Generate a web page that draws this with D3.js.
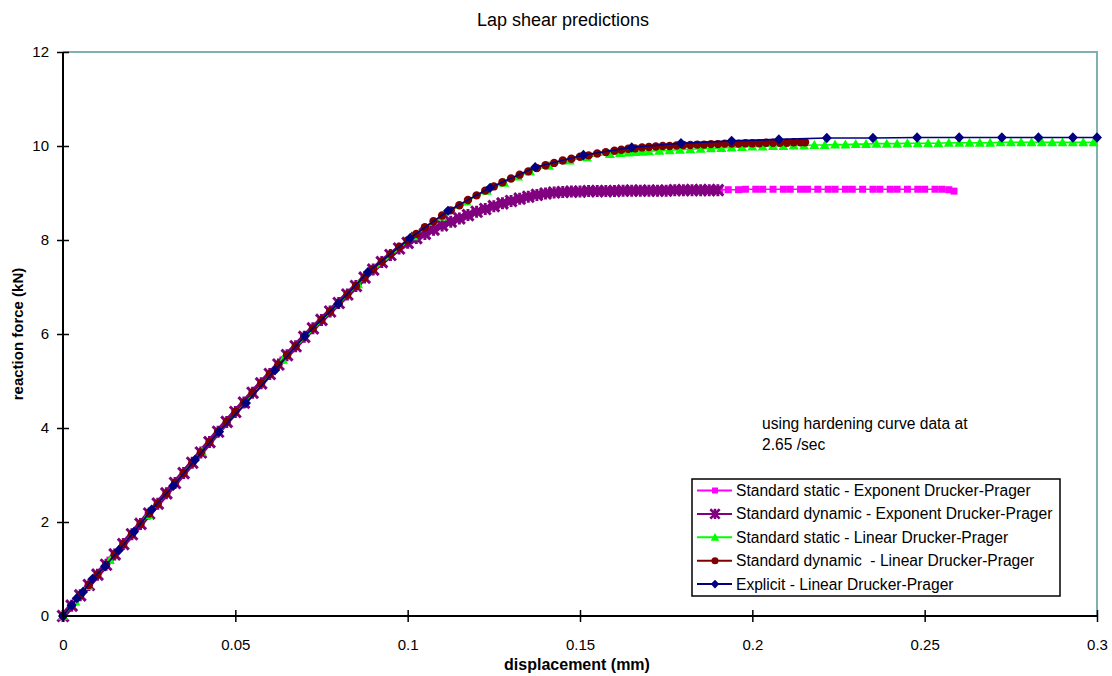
<!DOCTYPE html>
<html>
<head>
<meta charset="utf-8">
<title>Lap shear predictions</title>
<script src="https://cdn.jsdelivr.net/npm/d3@7"></script>
<style>
    body { margin: 0; background: #ffffff; }
    svg { font-family: "Liberation Sans", Arial, sans-serif; }
</style>
</head>
<body>
<svg id="drawing_region"></svg>
<script>
// displacement (mm), reaction force (kN)
const staticExp = [
    [0,0],[0.0036,0.31],[0.0073,0.64],[0.0136,1.19],[0.0247,2.15],[0.0403,3.5],[0.0638,5.45],
    [0.0856,7.06],[0.1016,8.02],[0.11,8.31],[0.117,8.51],[0.123,8.67],[0.128,8.79],[0.132,8.87],
    [0.136,8.94],[0.141,9.01],[0.147,9.04],[0.153,9.05],[0.16,9.06],[0.167,9.06],[0.174,9.07],
    [0.181,9.07],[0.187,9.07],[0.1905,9.07],[0.193,9.07],[0.196,9.07],[0.198,9.08],[0.201,9.08],
    [0.203,9.08],[0.206,9.08],[0.209,9.08],[0.211,9.08],[0.214,9.08],[0.216,9.08],[0.219,9.08],
    [0.222,9.08],[0.224,9.08],[0.227,9.08],[0.229,9.08],[0.232,9.08],[0.235,9.08],[0.237,9.08],
    [0.240,9.08],[0.242,9.08],[0.245,9.08],[0.248,9.08],[0.250,9.08],[0.253,9.08],[0.255,9.08],
    [0.257,9.07],[0.2585,9.04]
];

const dynamicExp = [
    [0,0],[0.0025,0.22],[0.005,0.44],[0.0075,0.66],[0.01,0.88],[0.0125,1.09],[0.015,1.31],
    [0.0175,1.53],[0.02,1.74],[0.0225,1.96],[0.025,2.18],[0.0275,2.39],[0.03,2.61],[0.0325,2.83],
    [0.035,3.04],[0.0375,3.26],[0.04,3.48],[0.0425,3.7],[0.045,3.92],[0.0475,4.13],[0.05,4.34],
    [0.0525,4.54],[0.055,4.75],[0.0575,4.95],[0.06,5.15],[0.0625,5.35],[0.065,5.55],[0.0675,5.74],
    [0.07,5.94],[0.0725,6.12],[0.075,6.3],[0.0775,6.48],[0.08,6.66],[0.0825,6.84],[0.085,7.02],
    [0.0875,7.2],[0.09,7.37],[0.0925,7.53],[0.095,7.68],[0.0975,7.82],[0.1,7.94],[0.1025,8.04],
    [0.105,8.13],[0.1075,8.22],[0.11,8.31],[0.1125,8.39],[0.115,8.46],[0.1175,8.53],[0.12,8.6],
    [0.1225,8.66],[0.125,8.72],[0.1275,8.78],[0.13,8.83],[0.1325,8.88],[0.135,8.92],[0.1375,8.96],
    [0.14,8.99],[0.1425,9.01],[0.145,9.02],[0.1475,9.03],[0.15,9.03],[0.1525,9.04],[0.155,9.04],
    [0.1575,9.04],[0.16,9.04],[0.1625,9.05],[0.165,9.05],[0.1675,9.05],[0.17,9.05],[0.1725,9.05],
    [0.175,9.05],[0.1775,9.06],[0.18,9.06],[0.1825,9.06],[0.185,9.06],[0.1875,9.06],[0.19,9.06]
];

const staticLin = [
    [0,0],[0.0036,0.31],[0.0073,0.64],[0.0136,1.19],[0.0247,2.15],[0.0403,3.5],[0.0638,5.45],
    [0.0856,7.06],[0.1016,8.08],[0.11,8.5],[0.117,8.82],[0.123,9.05],[0.128,9.22],[0.132,9.35],
    [0.1355,9.46],[0.141,9.58],[0.147,9.69],[0.152,9.76],[0.1587,9.83],[0.1616,9.85],[0.164,9.86],
    [0.166,9.87],[0.168,9.88],[0.17,9.89],[0.173,9.9],[0.176,9.91],[0.179,9.92],[0.182,9.93],
    [0.185,9.94],[0.188,9.95],[0.191,9.96],[0.194,9.97],[0.197,9.98],[0.2,9.99],[0.203,9.99],
    [0.206,10.0],[0.209,10.0],[0.212,10.01],[0.215,10.01],[0.218,10.02],[0.221,10.02],[0.224,10.03],
    [0.227,10.03],[0.23,10.04],[0.233,10.04],[0.236,10.05],[0.239,10.05],[0.242,10.05],[0.245,10.06],
    [0.248,10.06],[0.251,10.06],[0.254,10.06],[0.257,10.07],[0.26,10.07],[0.263,10.07],[0.266,10.07],
    [0.269,10.07],[0.272,10.08],[0.275,10.08],[0.278,10.08],[0.281,10.08],[0.284,10.08],[0.287,10.08],
    [0.29,10.08],[0.293,10.08],[0.296,10.08],[0.299,10.08]
];

const dynamicLin = [
    [0,0],[0.0025,0.22],[0.005,0.44],[0.0075,0.66],[0.01,0.88],[0.0125,1.09],[0.015,1.31],
    [0.0175,1.53],[0.02,1.74],[0.0225,1.96],[0.025,2.18],[0.0275,2.39],[0.03,2.61],[0.0325,2.83],
    [0.035,3.04],[0.0375,3.26],[0.04,3.48],[0.0425,3.7],[0.045,3.92],[0.0475,4.13],[0.05,4.34],
    [0.0525,4.54],[0.055,4.75],[0.0575,4.95],[0.06,5.15],[0.0625,5.35],[0.065,5.55],[0.0675,5.74],
    [0.07,5.94],[0.0725,6.12],[0.075,6.3],[0.0775,6.48],[0.08,6.66],[0.0825,6.84],[0.085,7.02],
    [0.0875,7.2],[0.09,7.38],[0.0925,7.54],[0.095,7.7],[0.0975,7.85],[0.1,7.99],[0.1025,8.13],
    [0.105,8.27],[0.1075,8.4],[0.11,8.52],[0.1125,8.63],[0.115,8.74],[0.1175,8.85],[0.12,8.95],
    [0.1225,9.05],[0.125,9.14],[0.1275,9.23],[0.13,9.31],[0.1325,9.39],[0.135,9.46],[0.1375,9.53],
    [0.14,9.59],[0.1425,9.64],[0.145,9.69],[0.1475,9.73],[0.15,9.77],[0.1525,9.8],[0.155,9.84],
    [0.1575,9.87],[0.16,9.9],[0.162,9.92],[0.164,9.94],[0.166,9.95],[0.168,9.97],[0.17,9.98],
    [0.172,9.99],[0.174,10.0],[0.176,10.0],[0.178,10.01],[0.18,10.02],[0.182,10.02],[0.184,10.03],
    [0.186,10.03],[0.188,10.04],[0.19,10.04],[0.192,10.05],[0.194,10.05],[0.196,10.05],[0.198,10.06],
    [0.2,10.06],[0.202,10.06],[0.204,10.07],[0.206,10.07],[0.208,10.07],[0.21,10.07],[0.212,10.08],
    [0.214,10.08],[0.2153,10.08]
];

const explicitLin = [
    [0,0],[0.0025,0.23],[0.004,0.38],[0.0058,0.51],[0.0086,0.79],[0.0122,1.06],[0.0162,1.4],
    [0.0206,1.79],[0.0257,2.26],[0.032,2.77],[0.0383,3.32],[0.0453,3.92],[0.0531,4.53],
    [0.0615,5.23],[0.0702,5.96],[0.0798,6.64],[0.0885,7.32],[0.1007,8.04],[0.1117,8.62],
    [0.1239,9.11],[0.137,9.55],[0.151,9.81],[0.165,9.97],[0.1793,10.06],[0.194,10.11],
    [0.2077,10.14],[0.2216,10.17],[0.235,10.17],[0.2478,10.18],[0.26,10.18],[0.2724,10.18],
    [0.283,10.18],[0.293,10.18],[0.3,10.18]
];

const seriesNames = [
    "Standard static - Exponent Drucker-Prager",
    "Standard dynamic - Exponent Drucker-Prager",
    "Standard static - Linear Drucker-Prager",
    "Standard dynamic  - Linear Drucker-Prager",
    "Explicit - Linear Drucker-Prager"
];
const seriesColors = ["#ff00ff", "#800080", "#00ff00", "#800000", "#000080"];
const seriesMarkers = ["square", "star", "triangle", "circle", "diamond"];

const xTicks = [0, 0.05, 0.1, 0.15, 0.2, 0.25, 0.3];
const yTicks = [0, 2, 4, 6, 8, 10, 12];

class LineChart {
    constructor(config, data) {
        this.config = {
            parent: config.parent,
            width: config.width || 256,
            height: config.height || 256,
            margin: config.margin || { top: 10, right: 10, bottom: 10, left: 10 }
        }
        this.data = data;
        this.init();
    }

    init() {
        let self = this;
        self.svg = d3.select(self.config.parent)
            .attr('width', self.config.width)
            .attr('height', self.config.height);

        self.left = self.config.margin.left;
        self.top = self.config.margin.top;
        self.right = self.config.width - self.config.margin.right;
        self.bottom = self.config.height - self.config.margin.bottom;

        self.xscale = d3.scaleLinear().domain([0, 0.3]).range([self.left, self.right]);
        self.yscale = d3.scaleLinear().domain([0, 12]).range([self.bottom, self.top]);

        self.line = d3.line()
            .x(d => self.xscale(d[0]))
            .y(d => self.yscale(d[1]));
    }

    update() {
        let self = this;
        self.render();
    }

    marker(sel, kind, color) {
        if (kind == "square") {
            sel.append('rect').attr('x', -3.5).attr('y', -3.5).attr('width', 7).attr('height', 7)
                .attr('fill', color);
        } else if (kind == "star") {
            sel.append('path').attr('d', 'M-5.5,-5.5L5.5,5.5M-5.5,5.5L5.5,-5.5M0,-6L0,6')
                .attr('stroke', color).attr('stroke-width', 3).attr('fill', 'none');
        } else if (kind == "triangle") {
            sel.append('path').attr('d', 'M0,-5L5,4L-5,4Z').attr('fill', color);
        } else if (kind == "circle") {
            sel.append('circle').attr('r', 4.2).attr('fill', color);
        } else {
            sel.append('path').attr('d', 'M0,-5.2L5,0L0,5.2L-5,0Z').attr('fill', color);
        }
    }

    render() {
        let self = this;

        // frame: black left and bottom, teal top and right
        self.svg.append('path')
            .attr('d', `M${self.left},${self.top}H${self.right}V${self.bottom}`)
            .attr('stroke', '#80b0b0').attr('stroke-width', 2).attr('fill', 'none');

        // series, in legend order so the later ones sit on top
        self.data.forEach((s, i) => {
            const g = self.svg.append('g');
            g.append('path')
                .attr('d', self.line(s))
                .attr('stroke', seriesColors[i])
                .attr('stroke-width', i == 1 ? 6 : (i == 3 ? 1.1 : 1.6))
                .attr('fill', 'none');
            g.selectAll('g.pt').data(s).join('g')
                .attr('class', 'pt')
                .attr('transform', d => `translate(${self.xscale(d[0])},${self.yscale(d[1])})`)
                .each(function() { self.marker(d3.select(this), seriesMarkers[i], seriesColors[i]); });
        });

        // axes
        const xaxis = d3.axisBottom(self.xscale).tickValues(xTicks).tickSize(6).tickPadding(17)
            .tickFormat(d => d3.format('')(d));
        const yaxis = d3.axisLeft(self.yscale).tickValues(yTicks).tickSize(6).tickPadding(8);

        const xg = self.svg.append('g')
            .attr('transform', `translate(0,${self.bottom})`)
            .call(xaxis);
        xg.select('.domain').remove();
        xg.selectAll('.tick line').attr('y1', -6).attr('stroke-width', 1.5);
        xg.selectAll('.tick text').attr('font-size', 15).attr('fill', '#000');

        const yg = self.svg.append('g')
            .attr('transform', `translate(${self.left},0)`)
            .call(yaxis);
        yg.select('.domain').remove();
        yg.selectAll('.tick line').attr('x1', 6).attr('stroke-width', 1.5);
        yg.selectAll('.tick text').attr('font-size', 15).attr('fill', '#000');
        yg.select('.tick:first-of-type line').remove();

        self.svg.append('path')
            .attr('d', `M${self.left},${self.top}V${self.bottom}H${self.right}`)
            .attr('stroke', '#000').attr('stroke-width', 2).attr('fill', 'none');

        // titles
        self.svg.append('text')
            .attr('x', (self.left + self.right) / 2 - 17).attr('y', 26)
            .attr('text-anchor', 'middle').attr('font-size', 18)
            .text('Lap shear predictions');

        self.svg.append('text')
            .attr('x', (self.left + self.right) / 2 - 3).attr('y', 670)
            .attr('text-anchor', 'middle').attr('font-size', 16).attr('font-weight', 'bold')
            .text('displacement (mm)');

        self.svg.append('text')
            .attr('transform', `translate(23,${(self.top + self.bottom) / 2}) rotate(-90)`)
            .attr('text-anchor', 'middle').attr('font-size', 15).attr('font-weight', 'bold')
            .text('reaction force (kN)');

        // note
        const note = self.svg.append('text').attr('font-size', 15.6);
        note.append('tspan').attr('x', 762).attr('y', 429).text('using hardening curve data at');
        note.append('tspan').attr('x', 762).attr('y', 450).text('2.65 /sec');

        // legend
        const legend = self.svg.append('g').attr('transform', 'translate(692,479)');
        legend.append('rect')
            .attr('width', 368).attr('height', 117)
            .attr('fill', '#fff').attr('stroke', '#000').attr('stroke-width', 1.5);
        seriesNames.forEach((name, i) => {
            const row = legend.append('g').attr('transform', `translate(0,${11.5 + i * 23.4})`);
            row.append('line').attr('x1', 5).attr('x2', 40)
                .attr('stroke', seriesColors[i]).attr('stroke-width', 2);
            self.marker(row.append('g').attr('transform', 'translate(23,0) scale(0.85)'), seriesMarkers[i], seriesColors[i]);
            row.append('text').attr('x', 44).attr('y', 5.5)
                .attr('font-size', 15.6).attr('xml:space', 'preserve')
                .style('white-space', 'pre')
                .text(name);
        });
    }
}

const config = {
    parent: '#drawing_region',
    width: 1112,
    height: 676,
    margin: { top: 52, right: 15, bottom: 60, left: 63 },
};
const chart = new LineChart(config, [staticExp, dynamicExp, staticLin, dynamicLin, explicitLin]);
chart.update();
</script>
</body>
</html>
